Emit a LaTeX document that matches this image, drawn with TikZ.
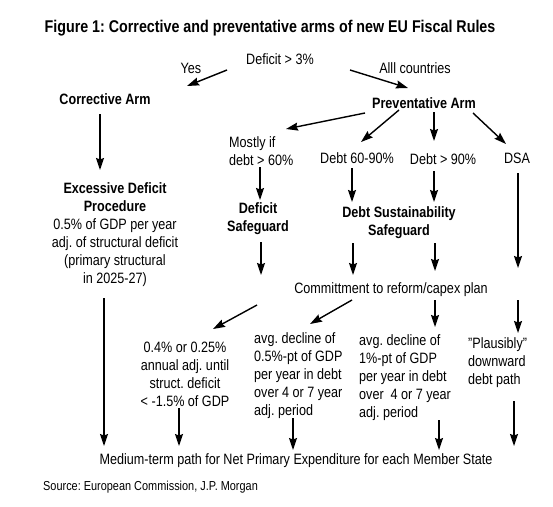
\documentclass[tikz,border=0pt]{standalone}
\usepackage{fontspec}
\setmainfont{Liberation Sans}[FakeStretch=0.84]
\usetikzlibrary{positioning, calc, arrows.meta}
\frenchspacing

\begin{document}
\begin{tikzpicture}[x=1pt, y=-1pt,
	every node/.style={inner sep=0pt, font=\fontsize{15}{18}\selectfont},
	hd/.style={font=\fontsize{15}{18}\selectfont\bfseries},
	arr/.style={-{Stealth[length=12pt,width=8pt,inset=1.5pt]}, line width=1.4pt}]
				\useasboundingbox (0,0) rectangle (553,506);
				
				\node [font=\fontsize{17}{20}\selectfont\bfseries] (title) at (270,28) {Figure 1: Corrective and preventative arms of new EU Fiscal Rules};
				
				\node (def) at (280,59) {Deficit > 3\%};
				\node (yes) at (191,68) {Yes};
				\node (all) at (415,68) {Alll countries};
				\node [hd] (cor) at (105,99) {Corrective Arm};
				\node [hd] (prev) at (424,103) {Preventative Arm};
				
				\node [align=center] (edp) at (115,234.5) {\textbf{Excessive Deficit}\\\textbf{Procedure}\\0.5\% of GDP per year\\adj. of structural deficit\\(primary structural\\in 2025-27)};
				
				\node [align=left, anchor=west] (mostly) at (229,151) {Mostly if\\debt > 60\%};
				\node (d6090) at (357,158) {Debt 60-90\%};
				\node (d90) at (443,159) {Debt > 90\%};
				\node (dsa) at (517,158) {DSA};
				\node [hd, align=center] (defsg) at (258,219) {Deficit\\Safeguard};
				\node [hd, align=center] (dss) at (399,222.5) {Debt Sustainability\\Safeguard};
				
				\node (commit) at (391,290) {Committment to reform/capex plan};
				
				\node [align=center] (lim) at (185,374) {0.4\% or 0.25\%\\annual adj. until\\struct. deficit\\< -1.5\% of GDP};
				\node [align=left, anchor=west] (half) at (254,375.5) {avg. decline of\\0.5\%-pt of GDP\\per year in debt\\over 4 or 7 year\\adj. period};
				\node [align=left, anchor=west] (one) at (359,377.5) {avg. decline of\\1\%-pt of GDP\\per year in debt\\over\ \ 4 or 7 year\\adj. period};
				\node [align=left, anchor=west] (plaus) at (468,362.5) {\char34 Plausibly\char34\\downward\\debt path};
				
				\node (med) at (296,461) {Medium-term path for Net Primary Expenditure for each Member State};
				\node [anchor=west, font=\fontsize{13}{15}\selectfont] (src) at (43,487) {Source: European Commission, J.P. Morgan};
				
				% top split
				\draw [arr] ($(def)+(-53,11)$) -- ($(cor)+(82,-13)$);
				\draw [arr] ($(def)+(70,11)$) -- ($(prev)+(-16,-15)$);
				\draw [arr] ($(cor)+(-5,15)$) -- ($(edp)+(-15,-64.5)$);
				
				% preventative arm
				\draw [arr] ($(prev)+(-59,10)$) -- ($(mostly.west)+(57,-22)$);
				\draw [arr] ($(prev)+(-25,7)$) -- ($(d6090)+(4,-16)$);
				\draw [arr] ($(prev)+(10,9)$) -- ($(d90)+(-9,-18)$);
				\draw [arr] ($(prev)+(49,10)$) -- ($(dsa)+(-11,-14)$);
				
				\draw [arr] ($(mostly.west)+(31,16)$) -- ($(defsg)+(2,-19)$);
				\draw [arr] ($(d6090)+(-5,10)$) -- ($(dss)+(-47,-20.5)$);
				\draw [arr] ($(d90)+(-9,12)$) -- ($(dss)+(35,-20.5)$);
				\draw [arr] ($(dsa)+(1,15)$) -- ($(commit)+(127,-22)$);
				
				\draw [arr] ($(defsg)+(3,23)$) -- ($(commit)+(-130,-15)$);
				\draw [arr] ($(dss)+(-46,20.5)$) -- ($(commit)+(-38,-15)$);
				\draw [arr] ($(dss)+(36,20.5)$) -- ($(commit)+(44,-19)$);
				
				\draw [arr] ($(commit)+(-134,15)$) -- ($(lim)+(28,-45)$);
				\draw [arr] ($(commit)+(-39,10)$) -- ($(half.west)+(56,-51.5)$);
				\draw [arr] ($(commit)+(44,10)$) -- ($(one.west)+(76,-50.5)$);
				\draw [arr] ($(commit)+(127,10)$) -- ($(plaus.west)+(50,-29.5)$);
				
				% down to the expenditure path
				\draw [arr] ($(edp)+(-11,63.5)$) -- ($(med)+(-192,-15)$);
				\draw [arr] ($(lim)+(-6,34)$) -- ($(med)+(-117,-15)$);
				\draw [arr] ($(half.west)+(39,42.5)$) -- ($(med)+(-3,-11)$);
				\draw [arr] ($(one.west)+(80,42.5)$) -- ($(med)+(143,-11)$);
				\draw [arr] ($(plaus.west)+(46,38.5)$) -- ($(med)+(218,-15)$);
\end{tikzpicture}
\end{document}
